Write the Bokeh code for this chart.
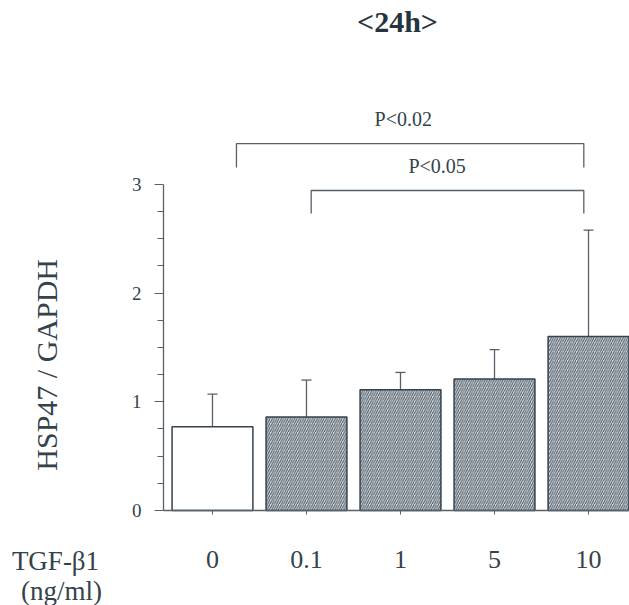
import math
from bokeh.plotting import figure
from bokeh.models import ColumnDataSource, FixedTicker, Whisker, TeeHead, Range1d
from bokeh.core.properties import value
from bokeh.embed import file_html
from bokeh.resources import INLINE

# ---- data ----
doses = ["0", "0.1", "1", "5", "10"]          # TGF-beta1 (ng/ml)
means = [0.77, 0.86, 1.11, 1.21, 1.60]        # HSP47 / GAPDH
errors = [0.30, 0.34, 0.16, 0.27, 0.98]       # upper error
y_ticks = [0, 1, 2, 3]
comparisons = [("0", "10", "P<0.02"), ("0.1", "10", "P<0.05")]
title_text = "<24h>"
y_label = "HSP47 / GAPDH"
x_row_label = ["TGF-\u03b21", "(ng/ml)"]

FONT = "Liberation Serif"
TXT = "#34424c"
LINE = "#56616a"

xs = list(range(len(doses)))
upper = [m + e for m, e in zip(means, errors)]
fill = ["#ffffff"] + ["#d9dfe3"] * (len(doses) - 1)
hatch = [" "] + ["/"] * (len(doses) - 1)
src = ColumnDataSource(dict(x=xs, top=means, upper=upper, fill=fill, hatch=hatch))

p = figure(width=629, height=605, output_backend="svg", toolbar_location=None,
           x_range=Range1d(-2.255, 4.436), y_range=Range1d(-0.874, 4.692),
           min_border=0)
p.outline_line_color = None
p.xgrid.visible = False
p.ygrid.visible = False
p.background_fill_color = "white"

p.vbar(x="x", top="top", width=0.86, source=src, fill_color="fill",
       hatch_pattern="hatch", hatch_color="#45525d", hatch_scale=4.5, hatch_weight=1.0,
       line_color="#36424c", line_width=1.5)

w = Whisker(source=src, base="x", upper="upper", lower="top", dimension="height",
            line_color=LINE, line_width=1.3,
            upper_head=TeeHead(size=10, line_color=LINE, line_width=1.3), lower_head=None)
p.add_layout(w)

# significance brackets
bx, by = [], []
levels = [(3.376, 3.156, 0.255, -0.05), (2.944, 2.732, 0.05, -0.05)]
label_pos = [(2.03, 3.606), (2.39, 3.165)]
for (a, b, txt), (top, foot, lo, ro), (lx, ly) in zip(comparisons, levels, label_pos):
    x0 = doses.index(a) + lo
    x1 = doses.index(b) + ro
    bx.append([x0, x0, x1, x1])
    by.append([foot, top, top, foot])
    p.text(x=[lx], y=[ly], text=[txt], text_font=value(FONT), text_font_size="20px",
           text_color=TXT, text_align="center", text_baseline="middle")
p.multi_line(xs=bx, ys=by, line_color=LINE, line_width=1.3)

p.text(x=[1.968], y=[4.499], text=[title_text], text_font=value(FONT), text_font_size="30px",
       text_font_style="bold", text_color="#26343e", text_align="center", text_baseline="middle")

# y axis title
p.text(x=[-1.77], y=[1.34], text=[y_label], angle=math.pi / 2, text_font=value(FONT),
       text_font_size="30px", text_color=TXT, text_align="center", text_baseline="middle")

# row label at the left of the dose tick labels
p.text(x=[-1.67, -1.606], y=[-0.46, -0.736], text=x_row_label, text_font=value(FONT),
       text_font_size="27px", text_color=TXT, text_align="center", text_baseline="middle")

# axes
ya = p.yaxis[0]
ya.fixed_location = -0.521
ya.ticker = FixedTicker(ticks=y_ticks, minor_ticks=[t / 4 for t in range(1, 12) if t % 4])
ya.bounds = (0, 3)
ya.axis_line_color = LINE
ya.axis_line_width = 1.3
ya.major_tick_line_color = LINE
ya.minor_tick_line_color = LINE
ya.major_tick_out = 9
ya.major_tick_in = 0
ya.minor_tick_out = 6
ya.minor_tick_in = 0
ya.major_label_text_font = FONT
ya.major_label_text_font_size = "19px"
ya.major_label_text_color = TXT
ya.major_label_standoff = 13

xa = p.xaxis[0]
xa.fixed_location = 0
xa.bounds = (-0.521, 4.436)
xa.ticker = FixedTicker(ticks=xs, minor_ticks=[])
xa.major_label_overrides = {i: d for i, d in enumerate(doses)}
xa.axis_line_color = LINE
xa.axis_line_width = 1.3
xa.major_tick_line_color = LINE
xa.major_tick_out = 4
xa.major_tick_in = 0
xa.minor_tick_line_color = None
xa.major_label_text_font = FONT
xa.major_label_text_font_size = "26px"
xa.major_label_text_color = TXT
xa.major_label_standoff = 36

open("out.html", "w").write(file_html(p, INLINE))
